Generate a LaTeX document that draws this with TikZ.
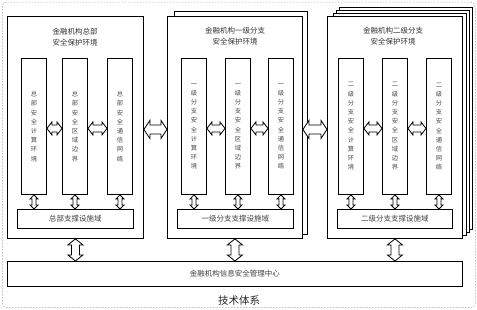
\documentclass[tikz,border=0pt]{standalone}
\usepackage{fontspec}
\setmainfont{Noto Sans CJK SC}
\usetikzlibrary{calc}
\tikzset{
  frame/.style={draw=gray!70, dash pattern=on 1.5pt off 1.5pt, line width=0.5pt, rounded corners=4pt, anchor=north west, inner sep=0pt},
  bigbox/.style={draw=black, line width=0.9pt, fill=white, anchor=north west, inner sep=0pt},
  colbox/.style={draw=black, line width=0.9pt, fill=white, anchor=north west, inner sep=0pt, minimum width=25pt, minimum height=136pt},
  barbox/.style={draw=black, line width=0.9pt, fill=white, anchor=north west, inner sep=0pt, minimum height=19pt},
  ttl/.style={text=black!80, font=\fontsize{7.5}{10.5}\selectfont, align=center, inner sep=0pt},
  vtxt/.style={text=black!70, font=\fontsize{6.3}{9.2}\selectfont, align=center, inner sep=0pt},
  bartxt/.style={text=black!75, font=\fontsize{7.5}{9}\selectfont, inner sep=0pt},
  blk/.style={draw=black, fill=white, line width=0.8pt, line join=miter},
}
% horizontal hollow double arrow: #1 left, #2 right, #3 head half width, #4 shaft half width, #5 head length
\newcommand\hdarrow[5]{\draw[blk] let \p1=(#1), \p2=(#2) in
  (\x1,\y1) -- (\x1+#5,\y1+#3) -- (\x1+#5,\y1+#4) -- (\x2-#5,\y1+#4) -- (\x2-#5,\y1+#3) -- (\x2,\y1)
  -- (\x2-#5,\y1-#3) -- (\x2-#5,\y1-#4) -- (\x1+#5,\y1-#4) -- (\x1+#5,\y1-#3) -- cycle;}
% vertical hollow double arrow: #1 top, #2 bottom
\newcommand\vdarrow[5]{\draw[blk] let \p1=(#1), \p2=(#2) in
  (\x1,\y1) -- (\x1+#3,\y1-#5) -- (\x1+#4,\y1-#5) -- (\x1+#4,\y2+#5) -- (\x1+#3,\y2+#5) -- (\x1,\y2)
  -- (\x1-#3,\y2+#5) -- (\x1-#4,\y2+#5) -- (\x1-#4,\y1-#5) -- (\x1-#3,\y1-#5) -- cycle;}
\begin{document}
\begin{tikzpicture}[x=1pt,y=-1pt]
\useasboundingbox (0,0) rectangle (477,310);
\node[frame, minimum width=473pt, minimum height=305pt] (frm) at (2,2) {};

% box 1
\node[bigbox, minimum width=136pt, minimum height=222pt] (b1) at (7,16) {};
% box 2 (two layers)
\node[bigbox, minimum width=133pt, minimum height=223pt] (b2b) at (174,11) {};
\node[bigbox, minimum width=135pt, minimum height=222pt] (b2) at (167,16) {};
% box 3 (four layers)
\node[bigbox, minimum width=133pt, minimum height=222pt] (b3c) at (339,7) {};
\node[bigbox, minimum width=133pt, minimum height=222pt] (b3b) at (336,10) {};
\node[bigbox, minimum width=133pt, minimum height=222pt] (b3a) at (333,13) {};
\node[bigbox, minimum width=135pt, minimum height=222pt] (b3) at (327,16) {};

% titles
\node[ttl] (t1) at (75,37) {金融机构总部\\安全保护环境};
\node[ttl] (t2) at (235,36) {金融机构一级分支\\安全保护环境};
\node[ttl] (t3) at (393,36) {金融机构二级分支\\安全保护环境};

% columns box 1
\node[colbox] (c11) at (21,58) {};
\node[colbox] (c12) at (62,58) {};
\node[colbox] (c13) at (107,58) {};
\node[vtxt] (v11) at (c11) {总\\部\\安\\全\\计\\算\\环\\境};
\node[vtxt] (v12) at (c12) {总\\部\\安\\全\\区\\域\\边\\界};
\node[vtxt] (v13) at (c13) {总\\部\\安\\全\\通\\信\\网\\络};
% columns box 2
\node[colbox] (c21) at (181,58) {};
\node[colbox] (c22) at (225,58) {};
\node[colbox] (c23) at (268,58) {};
\node[vtxt] (v21) at (c21) {一\\级\\分\\支\\安\\全\\计\\算\\环\\境};
\node[vtxt] (v22) at (c22) {一\\级\\分\\支\\安\\全\\区\\域\\边\\界};
\node[vtxt] (v23) at (c23) {一\\级\\分\\支\\安\\全\\通\\信\\网\\络};
% columns box 3
\node[colbox] (c31) at (338,58) {};
\node[colbox] (c32) at (382,58) {};
\node[colbox] (c33) at (426,58) {};
\node[vtxt] (v31) at (c31) {二\\级\\分\\支\\安\\全\\计\\算\\环\\境};
\node[vtxt] (v32) at (c32) {二\\级\\分\\支\\安\\全\\区\\域\\边\\界};
\node[vtxt] (v33) at (c33) {二\\级\\分\\支\\安\\全\\通\\信\\网\\络};

% support bars
\node[barbox, minimum width=116pt] (s1) at (17,209) {};
\node[bartxt] (st1) at (s1) {总部支撑设施域};
\node[barbox, minimum width=116pt] (s2) at (177,209) {};
\node[bartxt] (st2) at (s2) {一级分支支撑设施域};
\node[barbox, minimum width=115pt] (s3) at (337,209) {};
\node[bartxt] (st3) at (s3) {二级分支支撑设施域};

% main bar
\node[bigbox, minimum width=455pt, minimum height=25pt] (m) at (7,261) {};
\node[bartxt] (mt) at (m) {金融机构信息安全管理中心};

% caption
\node[text=black!85, font=\fontsize{10.5}{12}\selectfont, inner sep=0pt] (cap) at (239,301) {技术体系};

% arrows between columns
\hdarrow{[yshift=-2pt]c11.east}{[yshift=-2pt]c12.west}{6.5pt}{3.5pt}{5pt}
\hdarrow{[yshift=-2pt]c12.east}{[yshift=-2pt]c13.west}{6.5pt}{3.5pt}{5pt}
\hdarrow{[yshift=-2pt]c21.east}{[yshift=-2pt]c22.west}{6.5pt}{3.5pt}{5pt}
\hdarrow{[yshift=-2pt]c22.east}{[yshift=-2pt]c23.west}{6.5pt}{3.5pt}{5pt}
\hdarrow{[yshift=-2pt]c31.east}{[yshift=-2pt]c32.west}{6.5pt}{3.5pt}{5pt}
\hdarrow{[yshift=-2pt]c32.east}{[yshift=-2pt]c33.west}{6.5pt}{3.5pt}{5pt}
% arrows between boxes
\hdarrow{[yshift=-2pt]b1.east}{[yshift=-2pt]b2.west}{9pt}{4.5pt}{6pt}
\hdarrow{[yshift=-2pt]b2.east}{[yshift=-2pt]b3.west}{9pt}{4.5pt}{6pt}

% small vertical arrows columns -> bars
\foreach \c/\s in {c11/s1,c12/s1,c13/s1,c21/s2,c22/s2,c23/s2,c31/s3,c32/s3,c33/s3}{
  \vdarrow{\c.south}{\c.south |- \s.north}{4pt}{2pt}{4pt}
}
% big vertical arrows boxes -> main bar
\vdarrow{b1.south}{b1.south |- m.north}{7.5pt}{4pt}{6pt}
\vdarrow{b2.south}{b2.south |- m.north}{7.5pt}{4pt}{6pt}
\vdarrow{b3.south}{b3.south |- m.north}{7.5pt}{4pt}{6pt}
\end{tikzpicture}
\end{document}
